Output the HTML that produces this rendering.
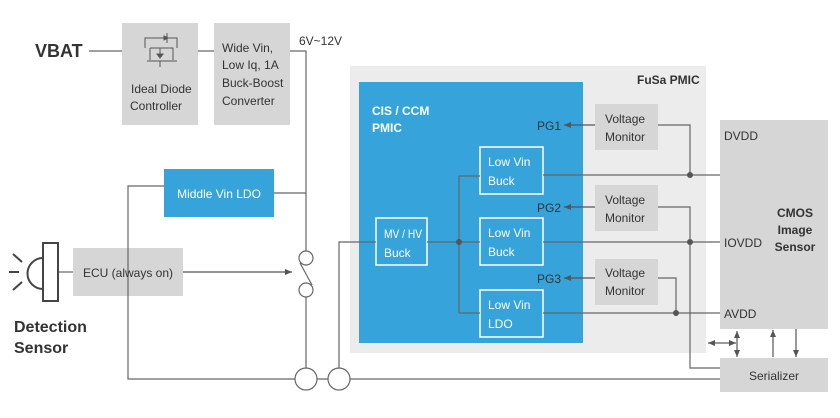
<!DOCTYPE html>
<html><head><meta charset="utf-8"><style>
html,body{margin:0;padding:0;background:#fff;}
svg{display:block;}
text{font-family:"Liberation Sans",sans-serif;}
</style></head><body>
<svg width="840" height="418" viewBox="0 0 840 418" xmlns="http://www.w3.org/2000/svg">
<defs>
<marker id="ah" markerWidth="8" markerHeight="8" refX="7" refY="4" orient="auto" markerUnits="userSpaceOnUse">
<path d="M0,1 L7,4 L0,7 z" fill="#555"/></marker>
</defs>
<rect x="350" y="66" width="356" height="287" fill="#ececec"/>
<rect x="359" y="82" width="224" height="261" fill="#36a4da"/>
<rect x="122" y="23" width="76" height="102" fill="#d6d6d6"/>
<rect x="214" y="23" width="76" height="102" fill="#d6d6d6"/>
<rect x="164" y="169" width="110" height="48" fill="#36a4da"/>
<rect x="73" y="248" width="110" height="48" fill="#d6d6d6"/>
<rect x="595" y="104" width="63" height="46" fill="#d6d6d6"/>
<rect x="595" y="185" width="63" height="46" fill="#d6d6d6"/>
<rect x="595" y="259" width="63" height="46" fill="#d6d6d6"/>
<rect x="720" y="120" width="108" height="209" fill="#d6d6d6"/>
<rect x="720" y="358" width="108" height="34" fill="#d6d6d6"/>
<g fill="none" stroke="#fff" stroke-width="1.5">
<rect x="376" y="218" width="51" height="47"/>
<rect x="480" y="147" width="63" height="47"/>
<rect x="480" y="218" width="63" height="47"/>
<rect x="480" y="290" width="63" height="47"/>
</g>
<g stroke="#666" stroke-width="1.2" fill="none">
<path d="M89,51 H122 M198,51 H214 M290,51 H306 V251 M306,297 V368"/>
<path d="M274,193 H306 M164,186 H128 V379 H295 M317,379 H328 M350,379 H720"/>
<circle cx="306" cy="258" r="7" fill="#fff"/>
<circle cx="306" cy="290" r="7" fill="#fff"/>
<path d="M300,263 L312,285"/>
<circle cx="306" cy="379" r="11" fill="#fff"/>
<circle cx="339" cy="379" r="11" fill="#fff"/>
<path d="M376,242 H339 V368"/>
<path d="M427,242 H480 M459,176 V313 M459,176 H480 M459,313 H480"/>
<path d="M543,175 H720 M543,242 H720 M543,313 H720"/>
<path d="M658,125 H690 V175 M658,207 H690 V368 H720 M658,278 H676 V313"/>
<path d="M58,272 H73"/>
</g>
<g stroke="#555" stroke-width="1.2" fill="none">
<path d="M183,272 H292" marker-end="url(#ah)"/>
<path d="M595,125 H564" marker-end="url(#ah)"/>
<path d="M595,207 H564" marker-end="url(#ah)"/>
<path d="M595,278 H564" marker-end="url(#ah)"/>
<path d="M722,343 H708" marker-end="url(#ah)"/>
<path d="M722,343 H736" marker-end="url(#ah)"/>
<path d="M737,344 V331" marker-end="url(#ah)"/>
<path d="M737,344 V357" marker-end="url(#ah)"/>
<path d="M773,357 V330" marker-end="url(#ah)"/>
<path d="M796,329 V357" marker-end="url(#ah)"/>
</g>
<g fill="#555">
<circle cx="459" cy="242" r="3"/>
<circle cx="690" cy="175" r="3"/>
<circle cx="690" cy="242" r="3"/>
<circle cx="676" cy="313" r="3"/>
</g>
<g stroke="#444" stroke-width="2" fill="none">
<rect x="43" y="243" width="15" height="58" fill="#fff"/>
<path d="M43,258 A14,14 0 0 0 43,289"/>
<path d="M13,254 L22,262 M9,272 H19 M13,290 L22,282"/>
</g>
<g stroke="#555" stroke-width="1" fill="none">
<path d="M145,48 V38 H177 V48 M150,48 V60 M150,48 H173 V60 M147,61 H177 M160,61 V67 M160,48 V58 M167,33 V43"/>
<path d="M157,54 L160,58 L163,54z M164,36 L168,38 L164,40z" fill="#555"/>
</g>
<g fill="#333" font-size="12">
<text x="35" y="57" font-size="18" font-weight="bold">VBAT</text>
<text x="131" y="93">Ideal Diode</text>
<text x="130" y="110">Controller</text>
<text x="222" y="52">Wide Vin,</text>
<text x="222" y="69">Low Iq, 1A</text>
<text x="222" y="87">Buck-Boost</text>
<text x="222" y="105">Converter</text>
<text x="299" y="45">6V~12V</text>
<text x="219" y="198" text-anchor="middle" fill="#fff">Middle Vin LDO</text>
<text x="128" y="277" text-anchor="middle">ECU (always on)</text>
<text x="14" y="332" font-size="16" font-weight="bold">Detection</text>
<text x="14" y="353" font-size="16" font-weight="bold">Sensor</text>
<text x="637" y="84" font-weight="bold">FuSa PMIC</text>
<text x="372" y="115" font-weight="bold" fill="#fff">CIS / CCM</text>
<text x="372" y="132" font-weight="bold" fill="#fff">PMIC</text>
<text x="384" y="238" fill="#fff" textLength="38" lengthAdjust="spacingAndGlyphs">MV / HV</text>
<text x="384" y="257" fill="#fff">Buck</text>
<text x="488" y="166" fill="#fff">Low Vin</text>
<text x="488" y="185" fill="#fff">Buck</text>
<text x="488" y="237" fill="#fff">Low Vin</text>
<text x="488" y="256" fill="#fff">Buck</text>
<text x="488" y="309" fill="#fff">Low Vin</text>
<text x="488" y="328" fill="#fff">LDO</text>
<text x="537" y="130">PG1</text>
<text x="537" y="212">PG2</text>
<text x="537" y="283">PG3</text>
<text x="605" y="123">Voltage</text>
<text x="605" y="141">Monitor</text>
<text x="605" y="204">Voltage</text>
<text x="605" y="222">Monitor</text>
<text x="605" y="277">Voltage</text>
<text x="605" y="295">Monitor</text>
<text x="724" y="140">DVDD</text>
<text x="724" y="247">IOVDD</text>
<text x="724" y="318">AVDD</text>
<text x="795" y="217" text-anchor="middle" font-weight="bold">CMOS</text>
<text x="795" y="234" text-anchor="middle" font-weight="bold">Image</text>
<text x="795" y="251" text-anchor="middle" font-weight="bold">Sensor</text>
<text x="774" y="380" text-anchor="middle">Serializer</text>
</g>
</svg>
</body></html>
